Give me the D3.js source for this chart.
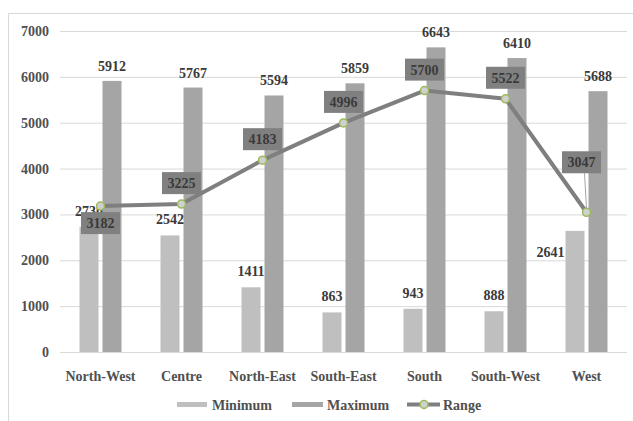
<!DOCTYPE html>
<html>
<head>
<meta charset="utf-8">
<script src="https://cdn.jsdelivr.net/npm/d3@7"></script>
<style>
  html, body { margin: 0; padding: 0; background: #ffffff; }
  svg { display: block; }
</style>
</head>
<body>
<div id="chart"></div>
<script>
// Regional figures
const categories = ["North-West", "Centre", "North-East", "South-East", "South", "South-West", "West"];
const minimum = [2730, 2542, 1411, 863, 943, 888, 2641];
const maximum = [5912, 5767, 5594, 5859, 6643, 6410, 5688];
const range = [3182, 3225, 4183, 4996, 5700, 5522, 3047];
const yTicks = [0, 1000, 2000, 3000, 4000, 5000, 6000, 7000];
const seriesNames = ["Minimum", "Maximum", "Range"];

const FONT = "'Liberation Serif', 'Times New Roman', Times, serif";
const W = 633, H = 421;
const plot = { left: 60, right: 627, top: 31, bottom: 352 };

const colors = {
  min: "#bfbfbf",
  max: "#a5a5a5",
  line: "#7f7f7f",
  marker: "#9bbb59",
  markerFill: "#d0d0d0",
  box: "#808080",
  grid: "#d9d9d9",
  label: "#3a3a3a",
  axis: "#505050"
};

const svg = d3.select("#chart").append("svg")
  .attr("width", W).attr("height", H);

// Outer frame (runs past the right and bottom edges)
svg.append("rect")
  .attr("x", 8.5).attr("y", 13.5)
  .attr("width", W + 10).attr("height", H + 10)
  .attr("fill", "none").attr("stroke", "#d9d9d9").attr("stroke-width", 1);

const x = d3.scaleBand().domain(categories).range([plot.left, plot.right]);
const y = d3.scaleLinear().domain([0, 7000]).range([plot.bottom, plot.top]);
const sub = d3.scaleBand().domain(["min", "max"]).range([-21, 21]).paddingInner(4 / 23);
const cx = c => x(c) + x.bandwidth() / 2;

// Gridlines
svg.append("g")
  .attr("transform", `translate(${plot.left},0)`)
  .call(d3.axisLeft(y).tickValues(yTicks).tickSize(-(plot.right - plot.left)).tickFormat(""))
  .call(g => g.select(".domain").remove())
  .call(g => g.selectAll("line").attr("stroke", colors.grid).attr("stroke-width", 1));

// Y axis labels
svg.append("g")
  .attr("transform", `translate(${plot.left - 11},0)`)
  .call(d3.axisLeft(y).tickValues(yTicks).tickSize(0).tickPadding(0).tickFormat(d3.format("d")))
  .call(g => g.select(".domain").remove())
  .call(g => g.selectAll("text").attr("fill", colors.axis).attr("font-size", 14));

// X axis labels
svg.append("g")
  .attr("transform", `translate(0,${plot.bottom})`)
  .call(d3.axisBottom(x).tickSize(0).tickPadding(19))
  .call(g => g.select(".domain").remove())
  .call(g => g.selectAll("text").attr("fill", colors.axis).attr("font-size", 14));

const rows = categories.map((c, i) => ({ c, min: minimum[i], max: maximum[i], range: range[i] }));

// Bars
const barG = svg.append("g");
barG.selectAll(".bmin").data(rows).join("rect")
  .attr("x", d => cx(d.c) + sub("min"))
  .attr("y", d => y(d.min))
  .attr("width", sub.bandwidth())
  .attr("height", d => y(0) - y(d.min))
  .attr("fill", colors.min);
barG.selectAll(".bmax").data(rows).join("rect")
  .attr("x", d => cx(d.c) + sub("max"))
  .attr("y", d => y(d.max))
  .attr("width", sub.bandwidth())
  .attr("height", d => y(0) - y(d.max))
  .attr("fill", colors.max);

// Bar value labels
const lab = svg.append("g")
  .attr("font-size", 14).attr("fill", colors.label);
lab.selectAll(".lmax").data(rows).join("text")
  .attr("x", d => cx(d.c) + sub("max") + sub.bandwidth() / 2)
  .attr("y", d => y(d.max) - 10)
  .attr("text-anchor", "middle")
  .text(d => d.max);
// The West minimum label sits beside its bar
lab.selectAll(".lmin").data(rows).join("text")
  .attr("x", d => d.c === "West"
    ? cx(d.c) + sub("min") - 1
    : cx(d.c) + sub("min") + sub.bandwidth() / 2)
  .attr("y", d => d.c === "West" ? y(d.min) + 26 : y(d.min) - 11)
  .attr("text-anchor", d => d.c === "West" ? "end" : "middle")
  .text(d => d.min);

// Range line
const line = d3.line().x(d => cx(d.c)).y(d => y(d.range));
svg.append("path").datum(rows)
  .attr("d", line)
  .attr("fill", "none")
  .attr("stroke", colors.line)
  .attr("stroke-width", 4)
  .attr("stroke-linejoin", "round");

svg.append("g").selectAll("circle").data(rows).join("circle")
  .attr("cx", d => cx(d.c))
  .attr("cy", d => y(d.range))
  .attr("r", 4)
  .attr("fill", colors.markerFill)
  .attr("stroke", colors.marker)
  .attr("stroke-width", 1.5);

// Range callouts: box placement relative to the point
const place = { "North-West": { dx: 0, dy: 6, below: true }, "West": { dx: -5, dy: -39 } };
const boxW = 39, boxH = 22;
const callouts = svg.append("g");
rows.forEach(d => {
  const p = place[d.c] || { dx: 0, dy: -10 };
  const px = cx(d.c), py = y(d.range);
  const bx = px + p.dx - boxW / 2;
  const by = p.below ? py + p.dy : py + p.dy - boxH;
  if (d.c === "West") {
    callouts.append("line")
      .attr("x1", px + p.dx + 3).attr("y1", by + boxH)
      .attr("x2", px).attr("y2", py - 4)
      .attr("stroke", "#a6a6a6").attr("stroke-width", 1);
  }
  callouts.append("rect")
    .attr("x", bx).attr("y", by)
    .attr("width", boxW).attr("height", boxH)
    .attr("fill", colors.box);
  callouts.append("text")
    .attr("x", bx + boxW / 2).attr("y", by + boxH / 2 + 5)
    .attr("text-anchor", "middle")
    .attr("font-size", 14).attr("fill", colors.label)
    .text(d.range);
});

// Legend
const legend = svg.append("g").attr("font-size", 14).attr("fill", colors.axis);
const ly = 404.5;
legend.append("rect").attr("x", 177).attr("y", ly - 2.5).attr("width", 30).attr("height", 5).attr("fill", colors.min);
legend.append("text").attr("x", 212).attr("y", ly + 5).text(seriesNames[0]);
legend.append("rect").attr("x", 292).attr("y", ly - 2.5).attr("width", 31).attr("height", 5).attr("fill", colors.max);
legend.append("text").attr("x", 327).attr("y", ly + 5).text(seriesNames[1]);
legend.append("line").attr("x1", 407).attr("x2", 440).attr("y1", ly).attr("y2", ly)
  .attr("stroke", colors.line).attr("stroke-width", 4);
legend.append("circle").attr("cx", 424).attr("cy", ly).attr("r", 4)
  .attr("fill", colors.markerFill).attr("stroke", colors.marker).attr("stroke-width", 1.5);
legend.append("text").attr("x", 443).attr("y", ly + 5).text(seriesNames[2]);

// Serif bold for every text in the chart
svg.selectAll("text")
  .style("font-family", FONT)
  .style("font-weight", "bold");
</script>
</body>
</html>
